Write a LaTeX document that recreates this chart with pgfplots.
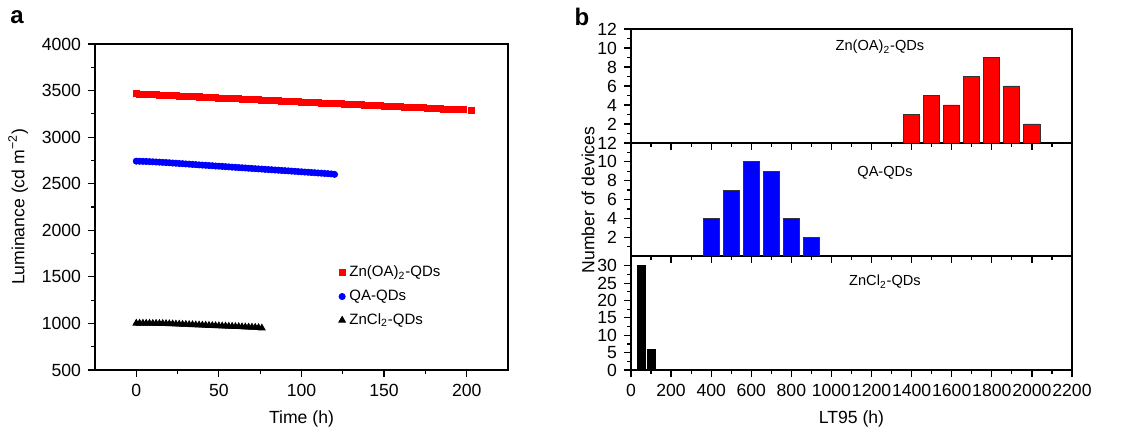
\documentclass[border=0pt]{standalone}
\usepackage{fontspec}
\setmainfont{Liberation Sans}
\usepackage{pgfplots}
\pgfplotsset{compat=1.18}
\definecolor{qred}{HTML}{FF0000}
\definecolor{qblue}{HTML}{0000FF}

\pgfplotsset{
  common/.style={
    scale only axis,
    tick align=outside, tick pos=left,
    axis line style={line width=0.7pt},
    every tick/.style={black, line width=0.6pt},
    major tick length=3.5pt, minor tick length=2pt,
    tick label style={font=\fontsize{8.8}{10}\selectfont},
    label style={font=\fontsize{8.8}{10}\selectfont},
    /pgf/number format/assume math mode=true,
    /pgf/number format/1000 sep={},
    scaled ticks=false,
  },
  hist/.style={
    common, width=220.5pt,
    xmin=0, xmax=2200, xtick={0,200,...,2200}, minor x tick num=1,
  },
}

\begin{document}
\begin{tikzpicture}
% panel a
\begin{axis}[common, name=pa, at={(0pt,0pt)}, anchor=south west,
  width=206.5pt, height=163pt,
  xmin=-25, xmax=225, xtick={0,50,...,200}, minor x tick num=1,
  ymin=500, ymax=4000, ytick={500,1000,...,4000}, minor y tick num=1,
  xlabel={Time (h)}, ylabel={Luminance (cd m\textsuperscript{−2})},
  legend style={at={(0.575,0.345)}, anchor=north west, draw=none, fill=none,
    font=\fontsize{7.5}{8}\selectfont, row sep=1pt},
  legend cell align=left,
]
\addplot[only marks, mark=square*, mark size=1.5pt, color=qred] coordinates {
(0,3465)(2,3463)(4,3462)(6,3460)(8,3458)(10,3456)(12,3455)(14,3453)(16,3451)(18,3449)
(20,3448)(22,3446)(24,3444)(26,3442)(28,3441)(30,3439)(32,3437)(34,3435)(36,3434)(38,3432)
(40,3430)(42,3428)(44,3427)(46,3425)(48,3423)(50,3421)(52,3420)(54,3418)(56,3416)(58,3415)
(60,3413)(62,3411)(64,3409)(66,3408)(68,3406)(70,3404)(72,3402)(74,3401)(76,3399)(78,3397)
(80,3395)(82,3394)(84,3392)(86,3390)(88,3388)(90,3387)(92,3385)(94,3383)(96,3381)(98,3380)
(100,3378)(102,3376)(104,3374)(106,3373)(108,3371)(110,3369)(112,3367)(114,3366)(116,3364)(118,3362)
(120,3360)(122,3359)(124,3357)(126,3355)(128,3353)(130,3352)(132,3350)(134,3348)(136,3347)(138,3345)
(140,3343)(142,3341)(144,3340)(146,3338)(148,3336)(150,3335)(152,3333)(154,3331)(156,3329)(158,3328)
(160,3326)(162,3324)(164,3322)(166,3321)(168,3319)(170,3317)(172,3315)(174,3314)(176,3312)(178,3310)
(180,3308)(182,3307)(184,3305)(186,3303)(188,3301)(190,3300)(192,3298)(194,3296)(196,3294)(198,3293)
(203,3290)
};
\addplot[only marks, mark=*, mark size=1.55pt, color=qblue] coordinates {
(0,2742)(2,2741)(4,2740)(6,2739)(8,2737)(10,2735)(12,2733)(14,2731)(16,2729)(18,2727)
(20,2725)(22,2722)(24,2720)(26,2717)(28,2715)(30,2712)(32,2710)(34,2707)(36,2705)(38,2702)
(40,2700)(42,2698)(44,2695)(46,2693)(48,2690)(50,2688)(52,2686)(54,2683)(56,2681)(58,2678)
(60,2676)(62,2673)(64,2671)(66,2669)(68,2666)(70,2664)(72,2661)(74,2659)(76,2657)(78,2654)
(80,2652)(82,2650)(84,2647)(86,2645)(88,2642)(90,2640)(92,2638)(94,2635)(96,2633)(98,2630)
(100,2628)(102,2625)(104,2623)(106,2620)(108,2618)(110,2615)(112,2613)(114,2610)(116,2608)(118,2605)
(120,2600)
};
\addplot[only marks, mark=triangle*, mark size=1.9pt, color=black] coordinates {
(0,1002)(2,1002)(4,1002)(6,1001)(8,1001)(10,1000)(12,1000)(14,999)(16,999)(18,998)
(20,996)(22,995)(24,993)(26,992)(28,990)(30,989)(32,987)(34,986)(36,984)(38,983)
(40,981)(42,980)(44,978)(46,977)(48,975)(50,974)(52,972)(54,971)(56,969)(58,968)
(60,966)(62,965)(64,963)(66,962)(68,960)(70,959)(72,957)(74,955)(76,950)
};
\legend{Zn(OA)\textsubscript{2}-QDs, QA-QDs, ZnCl\textsubscript{2}-QDs}
\end{axis}

% panel b, bottom
\begin{axis}[hist, at={(268pt,0pt)}, anchor=south west, height=57pt,
  ymin=0, ymax=32.8, ytick={0,5,...,30}, minor y tick num=1,
  xlabel={LT95 (h)}]
\addplot[ybar, bar width=40, fill=black, draw=black, line width=0.4pt] coordinates {(50,30)(100,6)};
\node[font=\fontsize{7.3}{8}\selectfont] at (axis cs:1267,25.3) {ZnCl\textsubscript{2}-QDs};
\end{axis}

% panel b, middle
\begin{axis}[hist, at={(268pt,57pt)}, anchor=south west, height=56.5pt,
  ymin=0, ymax=12, ytick={2,4,...,12}, minor ytick={1,3,...,11},
  xticklabels={}]
\addplot[ybar, bar width=80, fill=qblue, draw=black!80, line width=0.4pt] coordinates {
(400,4)(500,7)(600,10)(700,9)(800,4)(900,2)};
\node[font=\fontsize{7.3}{8}\selectfont] at (axis cs:1267,8.8) {QA-QDs};
\end{axis}

% panel b, top
\begin{axis}[hist, at={(268pt,113.5pt)}, anchor=south west, height=57pt,
  ymin=0, ymax=12, ytick={2,4,...,12}, minor ytick={1,3,...,11},
  xticklabels={}]
\addplot[ybar, bar width=80, fill=qred, draw=black!80, line width=0.4pt] coordinates {
(1400,3)(1500,5)(1600,4)(1700,7)(1800,9)(1900,6)(2000,2)};
\node[font=\fontsize{7.3}{8}\selectfont] at (axis cs:1242,10.1) {Zn(OA)\textsubscript{2}-QDs};
\end{axis}

\node[rotate=90, font=\fontsize{8.8}{10}\selectfont] at (246.5pt,85pt) {Number of devices};
\node[font=\fontsize{12}{14}\selectfont\bfseries] at (-39pt,176.5pt) {a};
\node[font=\fontsize{12}{14}\selectfont\bfseries] at (243.5pt,176.5pt) {b};
\path[use as bounding box] (-47.5pt,-30pt) rectangle (526pt,185pt);
\end{tikzpicture}
\end{document}
